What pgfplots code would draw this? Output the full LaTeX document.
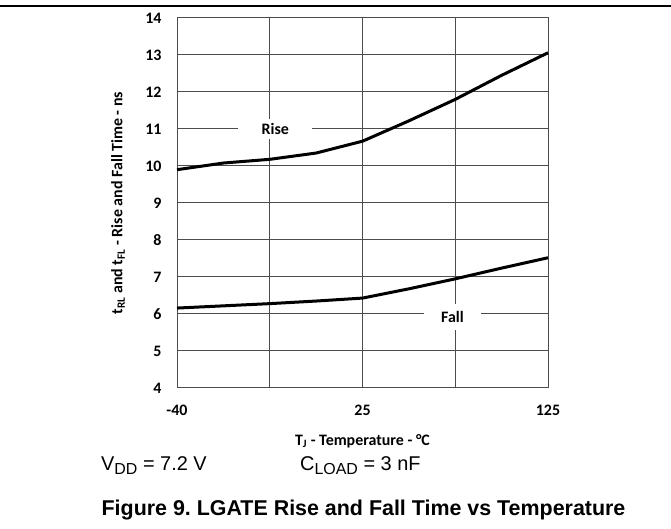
\documentclass[border=0pt]{standalone}
\usepackage{fontspec}
\setmainfont{Carlito}
\newfontfamily\arial{Liberation Sans}
\usepackage{pgfplots}
\pgfplotsset{compat=1.18}
\frenchspacing

\pgfplotstableread{
x    rise   fall
0    9.90   6.16
0.5  10.08  6.22
1    10.18  6.28
1.5  10.35  6.35
2    10.67  6.43
2.5  11.22  6.68
3    11.80  6.95
3.5  12.45  7.24
4    13.06  7.52
}\timedata

\newcommand{\bigsub}[1]{\raisebox{-4bp}{\fontsize{16}{18}\selectfont #1}}

\begin{document}
\begin{tikzpicture}[x=1bp,y=1bp]
\path[use as bounding box] (0,0) rectangle (671,529);
\draw[line width=1.6bp] (0,523) -- (671,523);
\begin{axis}[
    at={(177bp,141bp)}, anchor=south west,
    width=371bp, height=370bp, scale only axis,
    xmin=0, xmax=4, ymin=4, ymax=14,
    xtick={0,1,2,3,4}, xticklabels={-40,,25,,125},
    ytick={4,5,...,14},
    grid=major,
    major grid style={black!70, line width=1bp},
    axis line style={black!70, line width=1bp},
    major tick length=0pt,
    tick label style={font=\fontsize{16}{18}\selectfont\bfseries},
    /pgf/number format/assume math mode=true,
    yticklabel style={xshift=-12bp},
    xticklabel style={yshift=-14bp},
    xlabel={T\textsubscript{J} - Temperature - °C},
    ylabel={t\textsubscript{RL} and t\textsubscript{FL} - Rise and Fall Time - ns},
    label style={font=\fontsize{16}{18}\selectfont\bfseries},
    xlabel style={at={(axis description cs:0.5,-0.143)}, anchor=center},
    ylabel style={at={(axis description cs:-0.159,0.5)}, anchor=center},
    clip=false,
]
\addplot[black, line width=3bp] table[x=x, y=rise] {\timedata};
\addplot[black, line width=3bp] table[x=x, y=fall] {\timedata};
\node[fill=white, inner sep=0, minimum width=74bp, minimum height=20bp,
      font=\fontsize{16}{18}\selectfont\bfseries] at (axis cs:1.06,11) {Rise};
\node[fill=white, inner sep=0, minimum width=57bp, minimum height=26bp,
      font=\fontsize{16}{18}\selectfont\bfseries] at (axis cs:2.97,5.92) {Fall};
\end{axis}
\node[anchor=base west, inner sep=0, font=\arial\fontsize{20}{24}\selectfont]
    at (101,58.3) {V\bigsub{DD} = 7.2 V};
\node[anchor=base west, inner sep=0, font=\arial\fontsize{20}{24}\selectfont]
    at (300,58.3) {C\bigsub{LOAD} = 3 nF};
\node[anchor=base, inner sep=0, font=\arial\bfseries\fontsize{21.5}{24}\selectfont]
    at (363.5,13) {Figure 9. LGATE Rise and Fall Time vs Temperature};
\end{tikzpicture}
\end{document}
